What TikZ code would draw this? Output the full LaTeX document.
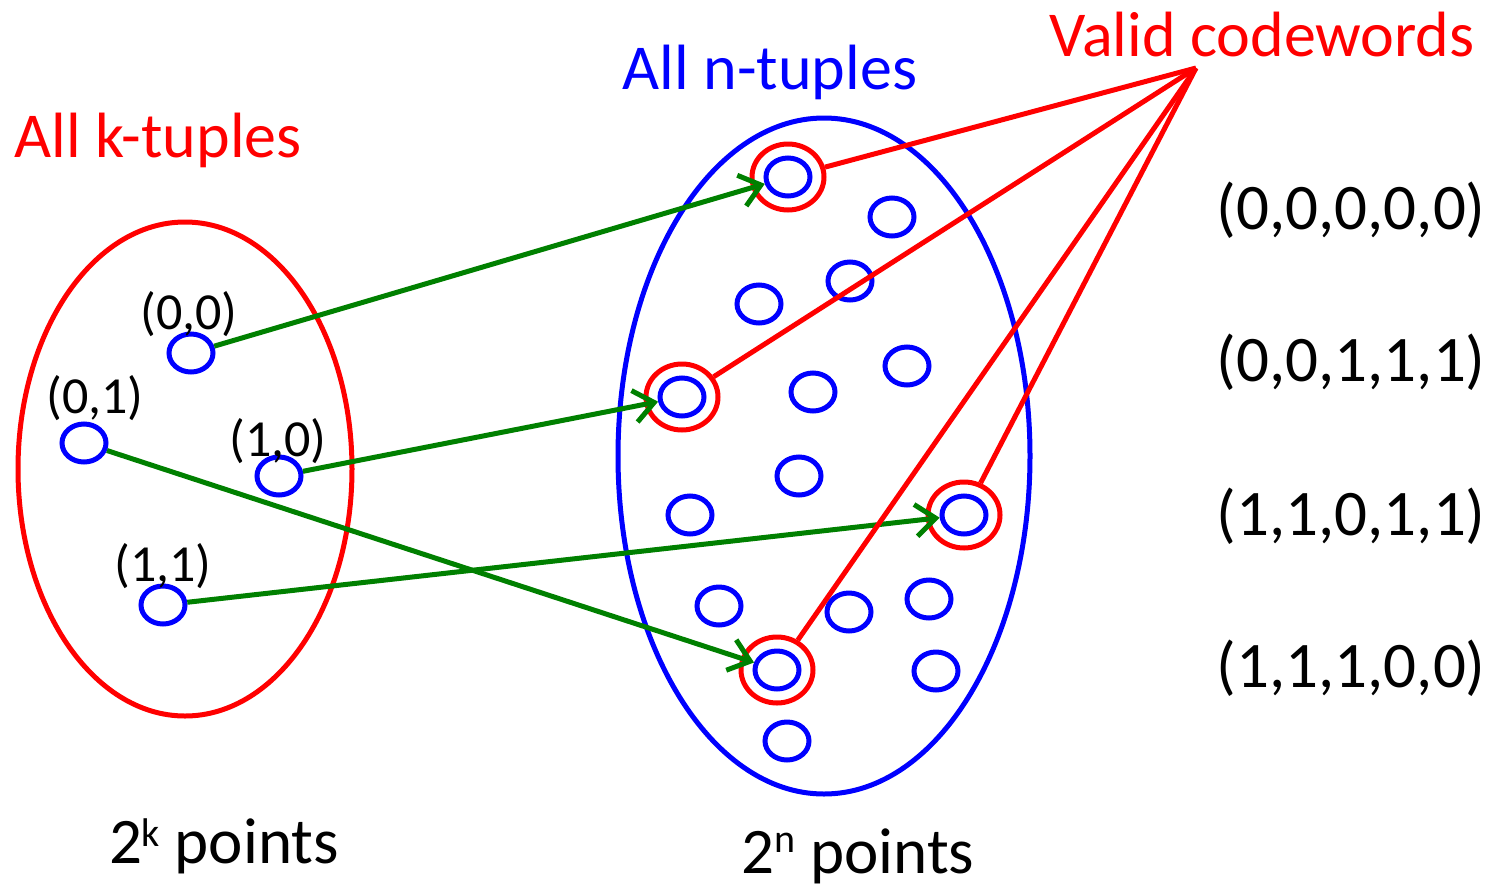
\documentclass[tikz,border=0pt]{standalone}
\usepackage{fontspec}
\setmainfont{Carlito}
\usetikzlibrary{shapes.geometric,arrows.meta}
\definecolor{dgreen}{RGB}{0,128,0}
\definecolor{pblue}{RGB}{0,0,255}
\definecolor{pred}{RGB}{255,0,0}
\newcommand{\supx}[2]{\raisebox{#1pt}{\fontsize{40}{42}\selectfont #2}}
\begin{document}
\begin{tikzpicture}[x=1pt,y=-1pt,
  pt/.style={draw=pblue,line width=5pt,ellipse,minimum width=44pt,minimum height=38pt,inner sep=0pt},
  ring/.style={draw=pred,line width=5pt,ellipse,minimum width=72pt,minimum height=66pt,inner sep=0pt},
  big/.style={ellipse,line width=5pt,inner sep=0pt},
  map/.style={draw=dgreen,line width=5pt,-{Straight Barb[length=20pt,width=32pt,line width=5pt]}},
  code/.style={draw=pred,line width=5pt},
  lbl/.style={font=\fontsize{52}{56}\selectfont,inner sep=0pt},
  tup/.style={font=\fontsize{65}{70}\selectfont,inner sep=0pt},
  ttl/.style={font=\fontsize{64}{70}\selectfont,inner sep=0pt}]
\useasboundingbox (0,0) rectangle (1497,892);
% big sets
\node[big,draw=pred,minimum width=334pt,minimum height=494pt] (K) at (185,469) {};
\node[big,draw=pblue,minimum width=412pt,minimum height=676pt] (N) at (824,456) {};
% titles
\node[ttl,text=pred] (tk) at (158,140) {All k-tuples};
\node[ttl,text=pblue] (tn) at (770,72) {All n-tuples};
\node[ttl,text=pred] (tv) at (1262,35) {Valid codewords};
\coordinate (vc) at (1196,68);
% k-tuples
\node[pt] (k00) at (191,353) {};
\node[pt] (k01) at (84,443) {};
\node[pt] (k10) at (279,476) {};
\node[pt] (k11) at (163,605) {};
\node[lbl] (l00) at (189,314) {(0,0)};
\node[lbl] (l01) at (95,398) {(0,1)};
\node[lbl] (l10) at (278,441) {(1,0)};
\node[lbl] (l11) at (163,566) {(1,1)};
% n-tuples
\node[pt] (c1) at (788,177) {};
\node[pt] (n1) at (892,217) {};
\node[pt] (n2) at (850,281) {};
\node[pt] (n3) at (759,304) {};
\node[pt] (n4) at (907,366) {};
\node[pt] (c2) at (682,397) {};
\node[pt] (n5) at (813,392) {};
\node[pt] (n6) at (799,476) {};
\node[pt] (n7) at (690,515) {};
\node[pt] (c3) at (964,515) {};
\node[pt] (n8) at (719,606) {};
\node[pt] (n9) at (849,612) {};
\node[pt] (n10) at (929,599) {};
\node[pt] (c4) at (777,670) {};
\node[pt] (n11) at (936,671) {};
\node[pt] (n12) at (787,741) {};
\node[ring] (r1) at (c1) {};
\node[ring] (r2) at (c2) {};
\node[ring] (r3) at (c3) {};
\node[ring] (r4) at (c4) {};
% mappings
\draw[map] (k00) -- (c1);
\draw[map] (k10) -- (c2);
\draw[map] (k01) -- (c4);
\draw[map] (k11) -- (c3);
% codeword pointers
\draw[code] (vc) -- (r1);
\draw[code] (vc) -- (r2);
\draw[code] (vc) -- (r3);
\draw[code] (vc) -- (r4);
% codeword list
\node[tup] (w1) at (1351,210) {(0,0,0,0,0)};
\node[tup] (w2) at (1351,362) {(0,0,1,1,1)};
\node[tup] (w3) at (1351,516) {(1,1,0,1,1)};
\node[tup] (w4) at (1351,668) {(1,1,1,0,0)};
% counts
\node[tup] (pk) at (224,846) {2\supx{17}{k} points};
\node[tup] (pn) at (858,856) {2\supx{21}{n} points};
\end{tikzpicture}
\end{document}
